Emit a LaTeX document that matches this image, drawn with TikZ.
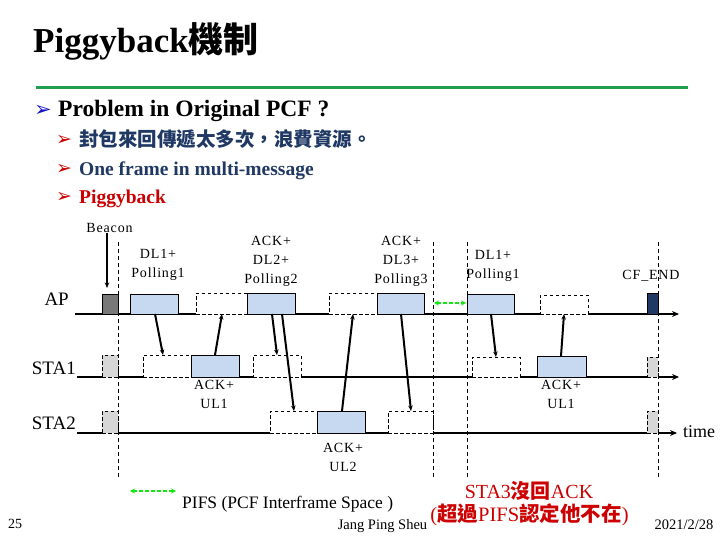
\documentclass[tikz,border=0pt]{standalone}
\usepackage{fontspec}
\setmainfont{Liberation Serif}
\newfontfamily\cjk{Noto Sans CJK TC}
\newfontfamily\dejavu{DejaVu Sans}
\newfontfamily\lbl{Liberation Serif}[LetterSpace=6]
\usetikzlibrary{arrows.meta}
\definecolor{gline}{RGB}{30,160,80}
\definecolor{dblue}{RGB}{31,56,100}
\definecolor{bblue}{RGB}{20,20,200}
\definecolor{myred}{RGB}{204,0,0}
\definecolor{lblue}{RGB}{198,217,240}
\definecolor{dgray}{RGB}{120,120,120}
\definecolor{lgray}{RGB}{215,215,215}
\definecolor{pgreen}{RGB}{20,230,20}
\newcommand\mybox[6]{\node[#2, minimum width={(#4-#3)*1pt}, minimum height={(#6-#5)*1pt}] (#1) at (#3,#6) {};}
\begin{document}
\begin{tikzpicture}[x=1pt,y=-1pt,
  base/.style={line width=2.6pt},
  bx/.style={line width=0.9pt, inner sep=0pt, outer sep=0pt, anchor=south west},
  bluebx/.style={bx, draw=black, fill=lblue},
  dbx/.style={bx, draw=black, dash pattern=on 3.5pt off 2.5pt, fill=white},
  gbx/.style={bx, draw=black, dash pattern=on 3.5pt off 2.5pt, fill=lgray},
  vline/.style={line width=0.8pt, dash pattern=on 4pt off 3pt},
  msg/.style={line width=2pt, -{Stealth[length=5.5pt,width=4.5pt]}},
  lab/.style={font=\lbl\fontsize{14}{19}\selectfont, align=center, inner sep=0pt},
  axis/.style={font=\fontsize{19}{22}\selectfont, inner sep=0pt},
  pifs/.style={line width=2pt, pgreen, dash pattern=on 4pt off 2pt, {Stealth[length=5pt,width=5pt]}-{Stealth[length=5pt,width=5pt]}},
  bul/.style={anchor=base west, inner sep=0pt, font=\dejavu\fontsize{19}{20}\selectfont},
]
\useasboundingbox (0,0) rectangle (720,540);

% header
\node[anchor=base west, inner sep=0pt, font=\bfseries\fontsize{35}{40}\selectfont] (title) at (33,53) {Piggyback{\cjk\bfseries 機制}};
\coordinate (gl1) at (36,88); \coordinate (gl2) at (688,88);
\draw[gline, line width=3pt] (gl1) -- (gl2);
\node[bul, text=bblue, font=\dejavu\fontsize{21}{22}\selectfont] (b1) at (34,117) {➢};
\node[anchor=base west, inner sep=0pt, font=\bfseries\fontsize{23.5}{26}\selectfont] (t1) at (58,117) {Problem in Original PCF ?};
\node[bul, text=myred] (b2) at (56,146) {➢};
\node[anchor=base west, inner sep=0pt, text=dblue, font=\cjk\bfseries\fontsize{19.5}{22}\selectfont] (t2) at (79,147) {封包來回傳遞太多次，浪費資源。};
\node[bul, text=myred] (b3) at (56,175) {➢};
\node[anchor=base west, inner sep=0pt, text=dblue, font=\bfseries\fontsize{19.5}{22}\selectfont] (t3) at (79,176) {One frame in multi-message};
\node[bul, text=myred] (b4) at (56,203) {➢};
\node[anchor=base west, inner sep=0pt, text=myred, font=\bfseries\fontsize{19.5}{22}\selectfont] (t4) at (79,204) {Piggyback};

% dashed verticals
\foreach \x/\n in {118/v1,433/v2,467/v3,658/v4}{
  \coordinate (\n a) at (\x,242); \coordinate (\n b) at (\x,478);
  \draw[vline] (\n a) -- (\n b);
}

% AP boxes
\mybox{bcn}{bx,draw=black,fill=dgray}{102}{118}{294}{314}
\mybox{ap1}{bluebx}{130}{178}{294}{314}
\mybox{apd1}{dbx}{196}{247}{293}{314}
\mybox{ap2}{bluebx}{247}{295}{293}{314}
\mybox{apd2}{dbx}{329}{377}{293}{314}
\mybox{ap3}{bluebx}{377}{424}{293}{314}
\mybox{ap4}{bluebx}{467}{514}{294}{314}
\mybox{apd3}{dbx}{540}{588}{295}{314}
\mybox{cfe}{bx,draw=black,fill=dblue}{647}{658}{293}{314}
% STA1 boxes
\mybox{s1g}{gbx}{102}{118}{355}{377}
\mybox{s1d1}{dbx}{143}{191}{355}{377}
\mybox{s1b1}{bluebx}{191}{239}{355}{377}
\mybox{s1d2}{dbx}{253}{301}{355}{377}
\mybox{s1d3}{dbx}{472}{520}{357}{377}
\mybox{s1b2}{bluebx}{537}{586}{356}{377}
\mybox{s1g2}{gbx}{647}{658}{357}{377}
% STA2 boxes
\mybox{s2g}{gbx}{102}{118}{411}{433}
\mybox{s2d1}{dbx}{270}{317}{411}{433}
\mybox{s2b1}{bluebx}{317}{365}{411}{433}
\mybox{s2d2}{dbx}{388}{433}{411}{433}
\mybox{s2g2}{gbx}{647}{658}{411}{433}

% baselines
\coordinate (apL) at (75,314); \coordinate (apR) at (679,314);
\coordinate (s1L) at (77,377); \coordinate (s1R) at (679,377);
\coordinate (s2L) at (77,433); \coordinate (s2R) at (677,433);
\draw[base] (apL) -- (bcn.south west) (bcn.south east) -- (ap1.south west)
  (ap1.south east) -- (apd1.south west) (ap2.south east) -- (apd2.south west)
  (ap3.south east) -- (ap4.south west) (ap4.south east) -- (apd3.south west)
  (apd3.south east) -- (cfe.south west);
\draw[base, -{Stealth[length=7pt,width=6pt]}] (cfe.south east) -- (apR);
\draw[base] (s1L) -- (s1g.south west) (s1g.south east) -- (s1d1.south west)
  (s1b1.south east) -- (s1d2.south west) (s1d2.south east) -- (s1d3.south west)
  (s1d3.south east) -- (s1b2.south west) (s1b2.south east) -- (s1g2.south west);
\draw[base, -{Stealth[length=7pt,width=6pt]}] (s1g2.south east) -- (s1R);
\draw[base] (s2L) -- (s2g.south west) (s2g.south east) -- (s2d1.south west)
  (s2b1.south east) -- (s2d2.south west) (s2d2.south east) -- (s2g2.south west);
\draw[base, -{Stealth[length=7pt,width=6pt]}] (s2g2.south east) -- (s2R);

% axis labels
\node[axis, anchor=east] (lap) at (69,299) {AP};
\node[axis, anchor=east] (lsta1) at (76,368) {STA1};
\node[axis, anchor=east] (lsta2) at (76,423) {STA2};
\node[axis, anchor=west, font=\fontsize{18}{20}\selectfont] (ltime) at (683,432) {time};

% labels
\node[lab] (bcnl) at (109.5,228) {Beacon};
\coordinate (bcnt) at (107,288);
\draw[line width=1.8pt, -{Stealth[length=5.5pt,width=4.5pt]}] (bcnl.south -| bcnt) -- (bcnt);
\node[lab] (l1) at (158,265) {DL1+\\Polling1};
\node[lab] (l2) at (271,261) {ACK+\\DL2+\\Polling2};
\node[lab] (l3) at (401,261) {ACK+\\DL3+\\Polling3};
\node[lab] (l4) at (493,266) {DL1+\\Polling1};
\node[lab] (l5) at (651,276) {CF\_END};
\node[lab] (l6) at (214,394) {ACK+\\UL1};
\node[lab] (l7) at (561,394) {ACK+\\UL1};
\node[lab] (l8) at (343,457) {ACK+\\UL2};

% message arrows
\draw[msg] ([xshift=25pt]ap1.south west) -- ([xshift=20pt]s1d1.north west);
\draw[msg] ([xshift=24pt]s1b1.north west) -- ([xshift=26pt]apd1.south west);
\draw[msg] ([xshift=25pt]ap2.south west) -- ([xshift=24pt]s1d2.north west);
\draw[msg] ([xshift=35pt]ap2.south west) -- ([xshift=24pt]s2d1.north west);
\draw[msg] ([xshift=25pt]s2b1.north west) -- ([xshift=24pt]apd2.south west);
\draw[msg] ([xshift=24pt]ap3.south west) -- ([xshift=23pt]s2d2.north west);
\draw[msg] ([xshift=24pt]ap4.south west) -- ([xshift=24pt]s1d3.north west);
\draw[msg] ([xshift=24pt]s1b2.north west) -- ([xshift=24pt]apd3.south west);

% PIFS
\coordinate (p1) at (434,303); \coordinate (p2) at (466,303);
\draw[pifs] (p1) -- (p2);
\coordinate (lg1) at (130,491); \coordinate (lg2) at (176,491);
\draw[pifs] (lg1) -- (lg2);
\node[anchor=base west, inner sep=0pt, font=\fontsize{17.5}{20}\selectfont] (lgt) at (182,508) {PIFS (PCF Interframe Space )};

% red note
\node[anchor=base, inner sep=0pt, text=myred, font=\fontsize{20}{22}\selectfont] (n1) at (529,498) {STA3{\cjk\bfseries 沒回}ACK};
\node[anchor=base, inner sep=0pt, text=myred, font=\fontsize{20.5}{22}\selectfont] (n2) at (529.5,521) {({\cjk\bfseries 超過}PIFS{\cjk\bfseries 認定他不在})};

% footer
\node[anchor=base west, inner sep=0pt, font=\fontsize{14}{16}\selectfont] (f1) at (8,528) {25};
\node[anchor=base, inner sep=0pt, font=\fontsize{14.5}{16}\selectfont] (f2) at (382.5,529) {Jang Ping Sheu};
\node[anchor=base, inner sep=0pt, font=\fontsize{14.5}{16}\selectfont] (f3) at (684,529) {2021/2/28};
\end{tikzpicture}
\end{document}
